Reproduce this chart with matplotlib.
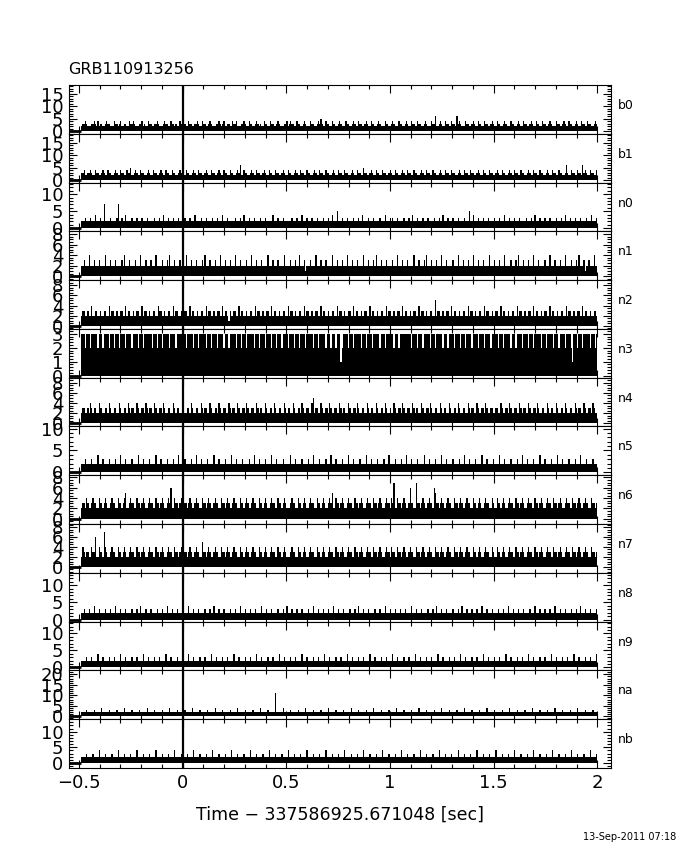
import matplotlib
matplotlib.use("Agg")
import matplotlib.pyplot as plt
import numpy as np
from matplotlib.ticker import MultipleLocator

plt.rcParams['font.family'] = ['DejaVu Sans']

title = "GRB110913256"
xlabel = "Time \u2212 337586925.671048 [sec]"
stamp = "13-Sep-2011 07:18"

# binned data span (s, relative to trigger) and plotting window
t_start, t_stop = -0.49, 2.0
x_lo, x_hi = -0.548, 2.066

detectors = ['b0', 'b1', 'n0', 'n1', 'n2', 'n3', 'n4',
             'n5', 'n6', 'n7', 'n8', 'n9', 'na', 'nb']
y_lo = [-1.0, -1.0, -0.9, -0.75, -0.6, -0.15, -0.6,
        -0.7, -1.0, -1.2, -0.5, -0.9, -1.4, -1.6]
y_hi = [18.5, 18.5, 13.4, 8.5, 9.0, 3.35, 9.0,
        10.5, 8.4, 8.6, 13.5, 13.5, 21.9, 14.0]
y_major = [5, 5, 5, 2, 2, 1, 2, 5, 2, 2, 5, 5, 5, 5]
y_minor = [1, 1, 1, 0.5, 0.5, 0.2, 0.5, 1, 0.5, 0.5, 1, 1, 1, 1]

# counts per bin, one digit per bin
counts = {
    'b0': ("2334322233432423322343322243323422332243343222334232243322334322234332243323224332"
           "3224332233432243322343222334323422332243342223343224332234323224332243322343222334"
           "2343322433223432224332234353224332243322343222433223432243322343224332234322243322"
           "3432224332234322433224332234322243362234322433224332234322243322343224332243322343"
           "2243322343222433223432243322343224332243322343222433223432243322343224332243322343"),
    'b1': ("3342233432243322343224332234322433224335223432243322343224332234322433224332234322"
           "2433223432243322343224332234322433224332234362243322343224332234322433224332234322"
           "4332234322433224332234322433224332234322433224332234322433225332234322433224332234"
           "3224332234322433224332234322433224332234322433224332234322433224332234322433224332"
           "2343224332234322433224332234322433224332234322433224332236322433224332234322433224"),
    'n0': ("2223222322242223227222232222322232242222322232223222322222322232242223222322232222"
           "3222322242222322232222322232224222322222322232242223222322223222322222422232223222"
           "2223222322242223222322232222322232242225222322232222322232242222322232222322242223"
           "2322232222322232242223222322232222322232242223222322232222322252242223222322232222"
           "3222322242223222322232222322232242223222322232222322232242223222322232222322242223"),
    'n1': ("2232224222322232222422232223222232422232222322242223222322242222322232422232223222"
           "2422232223222232422232223222422232223222422232222322242223222322224222322232222422"
           "2232223224222312223222422232223222242223222322242223222322224222322232422232223222"
           "2322242223222322224222322232422232223222422232222322242223222322242223222322224222"
           "3222322242222322232422232223222422232222322242223222322242222322232422231223222422"),
    'n2': ("2332232242233223223322423322322332242332232233224233223223322433223223322423322322"
           "3322423322322332242332232233224233213223322423322322332242332232233224233223223322"
           "4233223223322423322322332242332232233224233223223322423322322332242332232233224233"
           "2232233224233223223322423322322332252332232233224233223223322423322322332242332232"
           "2332242332232233224233223223322423322322332242332232233224233223223322423322322332"),
    'n3': ("3332333233333233323333233323332333323333233332333233333323332333233333233332333323"
           "3233333233323333323332333323333233323333323332333233333233323333233332333233323333"
           "2333323332333323333323332333332333233323331233332333233333233323333233333233323333"
           "3323332333333333233332333233333233323333323332333323333233323333233332333323333233"
           "3332333233333233323333233332333233333233323333323332333323333213332333233333233323"),
    'n4': ("2332232432332243322332432233224322332432332243223324323322432233243223322432332243"
           "2233243223322432332243223324322332243233224322332432233224323322432233243223322432"
           "3322432233243223322452332243223324322332243233224322332432233224323322432233243223"
           "2243223324322332243233224322332432233224323322432233243223322432332243223324322332"
           "2332243223324322332243233224322332432233224323322432233243223322432332243223324322"),
    'n6': ("2332432234332243323432234332243323452234332243323432234332243323432234362243323432"
           "3323432234332243323432234332243323432234332243323432234332243323432234332243323432"
           "2234332243323432234332243323432234352243323432234332243323432234332243323432234332"
           "4332243323432234332273323432234332653323432234332243323432234332243323432234332243"
           "2243323432234332243323432234332243323432234332243323432234332243323432234332243323"),
    'n7': ("2432332243362243323432234332243323432234332243323432234332243323432234332243323432"
           "3323432234332253323432234332243323432234332243323432234332243323432234332243323432"
           "2234332243323432234332243323432234332243323432234332243323432234332243323432234332"
           "4332243323432234332243323432234332243323432234332243323432234332243323432234332243"
           "2243323432234332243323432234332243323432234332243323432234332243323432234332243323"),
    'n5': ("2223222232222422232222322223222422232222322224222322223222242223222232222322242222"
           "3222232224222322223222242223222232222422232222322223222422232222322224222322223222"
           "2242223222232222322242222322223222422232222322224222322223222242223222232222322242"
           "2223222232224222322223222242223222232222422232222322223222422232222322224222322223"
           "2222422232222322223222422232222322224222322223222242223222232222322242222322223222"),
    'n8': ("2232223222422232222322232224222322232222322232242223222322223222322242223222322232"
           "2224222322232222322232242223222322223222322242223222322232222422232223222232223224"
           "2223222322232222322242223222322232224222322232222322232242223222322223222322242223"
           "2223222322232222422232223222232223224222322232222322232242223222322232224222322232"
           "2223222322242223222322232222322242223222322232224222322232222322232242223222322223"),
    'n9': ("2222322232222422232222322232222422232222322232222422232222322232222422232222322232"
           "2224222322223222322224222322223222322224222322223222322224222322223222322224222322"
           "2232223222242223222232223222242223222232223222242223222232223222242223222232223222"
           "2422232222322232222422232222322232222422232222322232222422232222322232222422232222"
           "3222322224222322223222322224222322223222322224222322223222322224222322223222322224"),
    'na': ("2222322222322222422222322222322222422222322222322222422222322222322222422222322222"
           "3222224222223222223222224222223222223222224222223222223222224222223222223222224222"
           "2232222232222242222232222232222242222232222232222242222232222232222242222232222232"
           "2222422222322222322222422222322222322222422222322222322222422222322222322222422222"
           "3222223222224222223222223222224222223222223222224222223222223222224222223222223222"),
    'nb': ("2222322223222242222322223222242222322223222242222322223222242222322223222242222322"
           "2232222422223222232222422223222232222422223222232222422223222232222422223222232222"
           "4222232222322224222232222322224222232222322224222232222322224222232222322224222232"
           "2223222242222322223222242222322223222242222322223222242222322223222242222322223222"
           "2422223222232222422223222232222422223222232222422223222232222422223222232222422223"),
}

# a few isolated taller spikes: (detector, time, counts)
spike_det = ['n0', 'n6', 'n6', 'n7', 'na', 'b0', 'b1']
spike_t = [-0.31, 1.02, 1.10, -0.38, 0.45, 1.32, 1.93]
spike_c = [7, 7, 6, 7, 11, 6, 6]

fig, axes = plt.subplots(len(detectors), 1, sharex=True, figsize=(6.8, 8.5), dpi=100)
fig.subplots_adjust(left=0.1015, right=0.8985, top=0.9, bottom=0.0965, hspace=0)

for i, (ax, det) in enumerate(zip(axes, detectors)):
    vals = np.array([int(c) for c in counts[det]], dtype=float)
    edges = np.linspace(t_start, t_stop, len(vals) + 1)
    for d, t, c in zip(spike_det, spike_t, spike_c):
        if d == det:
            vals[np.searchsorted(edges, t) - 1] = c
    ax.stairs(vals, edges, fill=True, color='k', lw=0)
    ax.hlines(0, x_lo, t_start, color='k', lw=2)
    ax.axvline(0, color='k', lw=1.6)
    ax.set_xlim(x_lo, x_hi)
    ax.set_ylim(y_lo[i], y_hi[i])
    ax.yaxis.set_major_locator(MultipleLocator(y_major[i]))
    ax.yaxis.set_minor_locator(MultipleLocator(y_minor[i]))
    ax.xaxis.set_major_locator(MultipleLocator(0.5))
    ax.xaxis.set_minor_locator(MultipleLocator(0.1))
    ax.tick_params(which='both', direction='in', top=True, right=True, width=0.8,
                   labelsize=13, pad=4)
    ax.tick_params(which='major', length=6)
    ax.tick_params(which='minor', length=3)
    for s in ax.spines.values():
        s.set_linewidth(0.8)
    ax.text(1.012, 0.58, det, transform=ax.transAxes, fontsize=9,
            ha='left', va='center')

axes[-1].set_xticks([-0.5, 0, 0.5, 1, 1.5, 2])
axes[-1].set_xticklabels(['\u22120.5', '0', '0.5', '1', '1.5', '2'])
axes[-1].set_xlabel(xlabel, fontsize=12.5, labelpad=10)

fig.text(0.1, 1 - 70 / 850, title, fontsize=11.5, ha='left', va='center')
fig.text(0.995, 1 - 837 / 850, stamp, fontsize=7, ha='right', va='center')

fig.savefig("out.png", dpi=100)
